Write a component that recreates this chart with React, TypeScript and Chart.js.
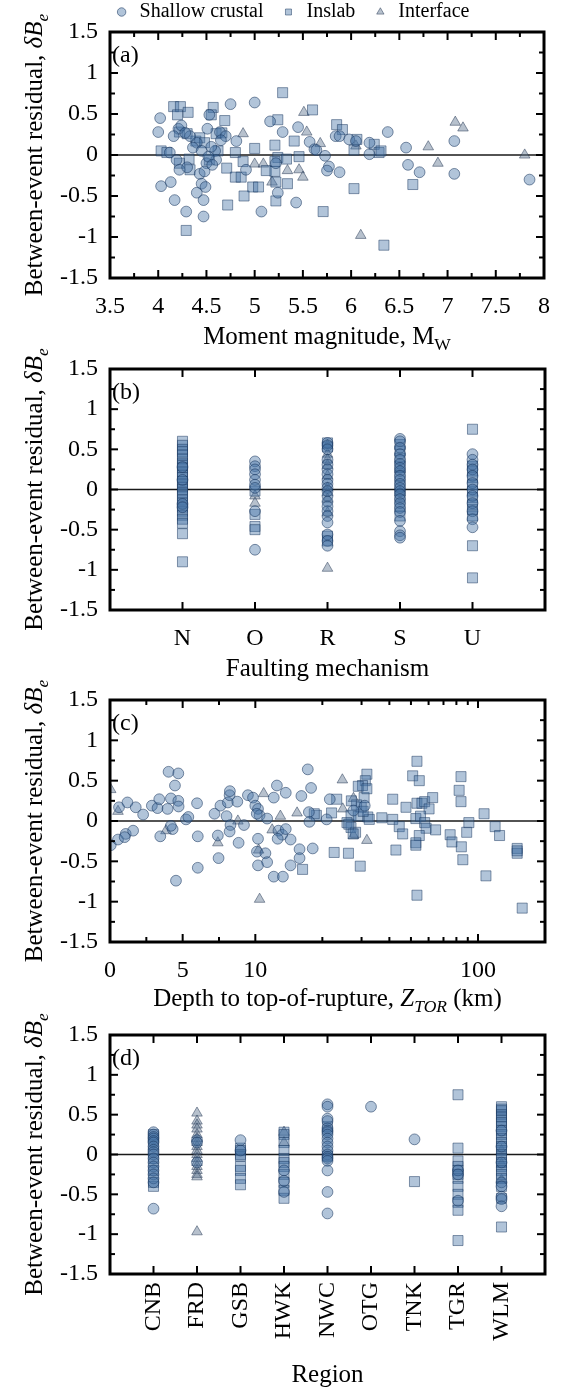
import React, { useEffect, useRef } from 'react';
import { Chart, registerables, LinearScale } from 'chart.js';

Chart.register(...registerables);

const FAMILY = '"Liberation Serif", "Times New Roman", Times, serif';
const TICK_SIZE = 24;
const TITLE_SIZE = 25;

// ---------- axis / category data ----------
const MECHANISMS = ['N', 'O', 'R', 'S', 'U'];
const REGIONS = ['CNB', 'FRD', 'GSB', 'HWK', 'NWC', 'OTG', 'TNK', 'TGR', 'WLM'];
const MW_TICKS = [3.5, 4, 4.5, 5, 5.5, 6, 6.5, 7, 7.5, 8];
const MW_MINOR = [3.75, 4.25, 4.75, 5.25, 5.75, 6.25, 6.75, 7.25, 7.75];
const DEPTH_TICKS = [0, 5, 10, 100];
const DEPTH_MINOR = [2.5, 7.5, 20, 30, 40, 50, 60, 70, 80, 90, 200];
const RES_TICKS = [-1.5, -1, -0.5, 0, 0.5, 1, 1.5];
const RES_MINOR = [-1.25, -0.75, -0.25, 0.25, 0.75, 1.25];
const SERIES = ['Shallow crustal', 'Inslab', 'Interface'];

// ---------- (a) residual vs moment magnitude ----------
const A_SHALLOW: [number, number][] = [
  [4.02, 0.45], [4.0, 0.28], [4.03, -0.38], [4.13, -0.33], [4.17, -0.55], [4.29, -0.69], [4.47, -0.75],
  [4.75, 0.62], [5.0, 0.64], [5.07, -0.69], [4.21, 0.32], [4.24, 0.36], [4.16, 0.23], [4.12, 0.03],
  [4.19, -0.06], [4.22, -0.18], [4.43, -0.23], [4.45, -0.35], [4.4, -0.46], [4.47, -0.55], [4.49, -0.39],
  [4.5, -0.1], [4.51, 0.32], [4.53, 0.49], [4.64, 0.28], [4.7, 0.23], [4.81, 0.17], [4.4, 0.15],
  [4.36, 0.09], [4.33, 0.23], [4.59, 0.05], [4.6, -0.06], [4.91, -0.18], [4.28, 0.27], [4.45, 0.05],
  [4.52, -0.02], [4.55, 0.1], [4.48, -0.2], [4.3, -0.15], [4.65, 0.18], [4.56, -0.12],
  [5.16, 0.41], [5.29, 0.28], [5.45, 0.34], [5.57, 0.16], [5.62, 0.07], [5.64, 0.06], [5.73, -0.01],
  [5.77, -0.14], [5.75, -0.19], [5.88, -0.21], [5.84, 0.23], [5.88, 0.23], [5.98, 0.19], [6.05, 0.17],
  [6.19, 0.15], [6.19, 0.01], [6.38, 0.28], [6.57, 0.09], [6.59, -0.12], [6.71, -0.21], [7.07, 0.17],
  [7.07, -0.23], [7.85, -0.3], [5.43, -0.58], [5.24, -0.46], [5.22, -0.1],
];
const A_INSLAB: [number, number][] = [
  [4.16, 0.59], [4.23, 0.59], [4.2, 0.49], [4.31, 0.52], [4.57, 0.58], [4.55, 0.49], [4.69, 0.42],
  [4.22, 0.28], [4.3, 0.26], [4.39, 0.17], [4.43, 0.21], [4.6, 0.26], [4.66, 0.27], [4.03, 0.05],
  [4.09, 0.03], [4.32, -0.05], [4.22, -0.1], [4.33, -0.18], [4.53, -0.06], [4.62, 0.05], [4.71, -0.16],
  [4.8, 0.03], [4.88, -0.08], [4.8, -0.27], [4.86, -0.27], [5.0, 0.08], [4.98, -0.39], [5.04, -0.39],
  [4.89, -0.5], [4.72, -0.61], [4.29, -0.92], [4.48, 0.15],
  [5.29, 0.76], [5.6, 0.55], [5.24, 0.43], [5.41, 0.17], [5.21, 0.12], [5.24, -0.03], [5.33, -0.05],
  [5.46, -0.02], [5.21, -0.08], [5.12, -0.19], [5.21, -0.2], [5.22, -0.33], [5.34, -0.35], [5.22, -0.56],
  [5.71, -0.69], [5.85, 0.37], [5.91, 0.31], [6.06, 0.19], [6.03, 0.06], [6.24, 0.13], [6.29, 0.03],
  [6.31, 0.05], [6.03, -0.41], [6.64, -0.36], [6.34, -1.1],
];
const A_INTERFACE: [number, number][] = [
  [4.88, 0.26], [5.0, -0.11], [5.09, -0.11], [5.51, 0.52], [5.54, 0.28], [5.68, 0.14], [6.05, 0.11],
  [5.34, -0.19], [5.46, -0.18], [5.5, -0.27], [5.18, -0.33], [6.1, -0.98], [6.8, 0.1], [6.9, -0.1],
  [7.08, 0.4], [7.16, 0.33], [7.8, 0.0],
];

// ---------- (b) residual by faulting mechanism ----------
const B_SHALLOW: Record<string, number[]> = {
  N: [0.28, 0.12, -0.18, -0.22],
  O: [0.35, 0.29, 0.25, 0.19, 0.12, 0.06, 0.02, -0.27, -0.75],
  R: [0.58, 0.55, 0.5, 0.37, 0.31, 0.25, 0.19, 0.12, 0.07, 0.02, -0.02, -0.08, -0.15, -0.21, -0.27, -0.33, -0.41, -0.56, -0.64, -0.7],
  S: [0.63, 0.6, 0.52, 0.44, 0.37, 0.32, 0.27, 0.23, 0.17, 0.12, 0.07, 0.02, -0.02, -0.06, -0.12, -0.17, -0.23, -0.28, -0.39, -0.52, -0.57, -0.6],
  U: [0.44, 0.37, 0.31, 0.25, 0.17, 0.08, 0, -0.08, -0.17, -0.27, -0.37, -0.47],
};
const B_INSLAB: Record<string, number[]> = {
  N: [0.6, 0.55, 0.5, 0.47, 0.43, 0.38, 0.33, 0.3, 0.27, 0.22, 0.18, 0.15, 0.1, 0.07, 0.03, 0, -0.04, -0.08, -0.13, -0.17, -0.22, -0.27, -0.32, -0.37, -0.42, -0.55, -0.9],
  O: [-0.02, -0.31, -0.46, -0.5],
  R: [0.58, 0.53, -0.58, -0.64],
  S: [0.56, 0.48, 0.39, 0.29, 0.17, 0.04, -0.08, -0.21, -0.33],
  U: [0.75, 0.29, 0.23, 0.15, 0.06, -0.02, -0.1, -0.19, -0.25, -0.33, -0.7, -1.1],
};
const B_INTERFACE: Record<string, number[]> = {
  O: [-0.08, -0.17],
  R: [0.55, 0.44, 0.37, 0.3, 0.17, 0.02, -0.04, -0.12, -0.29, -0.98],
  S: [0.25, -0.04],
};

// ---------- (c) residual vs depth to top of rupture (km) ----------
const C_SHALLOW: [number, number][] = [
  [0.05, -0.3], [0.55, -0.23], [0.62, 0.17], [1.08, -0.16], [1.01, -0.2], [1.2, 0.23], [1.59, -0.12],
  [1.77, 0.17], [2.28, 0.08], [2.88, 0.19], [3.27, 0.16], [3.46, -0.19], [3.39, 0.27], [3.96, 0.15],
  [4.03, 0.61], [4.7, 0.59], [4.47, 0.44], [4.19, 0.28], [4.7, 0.25], [4.72, 0.18], [4.31, -0.1],
  [4.19, -0.06], [4.54, -0.74], [5.23, 0.02], [5.39, 0.05], [5.99, 0.22], [6.04, -0.19], [6.04, -0.58],
  [7.19, 0.09], [7.6, 0.19], [7.42, -0.18], [7.47, -0.46], [8.02, 0.06], [8.11, 0.23], [8.23, 0.32],
  [8.25, 0.37], [8.29, -0.05], [8.23, -0.13], [8.76, 0.24], [8.85, -0.27], [9.22, -0.05], [9.49, 0.32],
  [9.84, 0.29], [10.0, 0.19], [10.28, 0.15], [10.45, 0.07], [10.15, 0.09], [10.28, -0.22], [10.17, -0.38],
  [11.1, -0.4], [10.28, -0.55], [11.3, -0.51], [11.3, 0.03], [12.1, 0.29], [12.5, 0.44], [13.7, 0.35],
  [12.7, -0.12], [13.2, -0.17], [13.7, -0.1], [12.6, -0.22], [14.4, -0.23], [12.1, -0.69], [13.3, -0.69],
  [14.4, -0.55], [15.8, -0.35], [15.8, -0.46], [16.1, 0.31], [17.2, 0.64], [17.8, 0.41], [18.1, -0.34],
  [17.4, 0.11], [17.5, -0.01], [21.6, 0.27], [20.9, 0.02], [27.6, 0.13], [31.0, 0.19],
];
const C_INSLAB: [number, number][] = [
  [16.3, -0.6], [18.8, 0.07], [23.2, 0.27], [22.0, 0.1], [18.4, 0.09], [22.6, -0.39], [26.2, -0.4],
  [29.6, -0.56], [31.7, 0.58], [31.2, 0.5], [30.3, 0.44], [29.0, 0.43], [30.8, 0.29], [31.7, 0.4],
  [29.9, 0.17], [26.9, 0.07], [25.8, -0.02], [26.9, -0.08], [28.2, -0.14], [26.3, -0.04], [29.0, 0.06],
  [32.0, 0.05], [32.5, 0.02], [27.5, -0.16], [28.5, 0.2], [30.5, 0.12], [27.0, 0.25], [37.0, 0.04],
  [41.4, 0.27], [41.4, 0.02], [44.3, -0.07], [45.9, -0.16], [47.5, 0.17], [42.8, -0.36], [53.2, 0.74],
  [50.9, 0.56], [54.5, 0.5], [53.2, 0.22], [56.0, 0.22], [57.6, 0.24], [62.6, 0.29], [60.3, 0.15],
  [52.6, 0.03], [55.2, 0.06], [57.6, -0.02], [58.5, -0.09], [64.5, -0.11], [54.5, -0.18], [52.6, -0.27],
  [52.6, -0.3], [53.2, -0.92], [75.0, -0.17], [76.4, -0.26], [83.9, 0.55], [82.3, 0.38], [83.9, 0.24],
  [84.2, -0.32], [85.5, -0.48], [89, -0.14], [91, -0.02], [106.5, 0.09], [108.6, -0.68], [119.4, -0.07],
  [125, -0.18], [150, -0.34], [150, -0.4], [150, -0.37], [158, -1.08],
];
const C_INTERFACE: [number, number][] = [
  [0.05, 0.39], [0.55, 0.12], [3.85, -0.12], [7.42, -0.27], [8.8, 0.0], [10.9, 0.34], [12.96, 0.06],
  [11.9, -0.11], [10.45, -0.97], [10.35, -0.36], [15.4, 0.1], [24.6, 0.51], [27.6, 0.28], [24.7, 0.15],
  [27.6, -0.18], [31.7, -0.24],
];

// ---------- (d) residual by region ----------
const D_SHALLOW: Record<string, number[]> = {
  CNB: [0.28, 0.25, 0.22, 0.2, 0.17, 0.15, 0.1, 0.06, 0.03, 0, -0.05, -0.1, -0.15, -0.2, -0.25, -0.3, -0.35, -0.68],
  FRD: [0.18, 0.15, -0.1],
  GSB: [0.18, 0.05],
  HWK: [-0.2, -0.33, -0.47],
  NWC: [0.63, 0.6, 0.45, 0.42, 0.33, 0.3, 0.28, 0.25, 0.2, 0.15, 0.1, 0.05, 0, -0.03, -0.05, -0.08, -0.2, -0.47, -0.74],
  OTG: [0.6],
  TNK: [0.19],
  TGR: [-0.2, -0.25, -0.58],
  WLM: [0.3, 0.1, -0.1, -0.35, -0.4, -0.53, -0.56, -0.65],
};
const D_INSLAB: Record<string, number[]> = {
  CNB: [0.25, 0.12, -0.05, -0.2, -0.35, -0.4],
  GSB: [0.08, 0.05, 0, -0.02, -0.15, -0.2, -0.3, -0.38],
  HWK: [0.28, 0.25, 0.15, 0.05, -0.05, -0.1, -0.15, -0.25, -0.35, -0.45, -0.55],
  NWC: [0.35, -0.02],
  TNK: [-0.34],
  TGR: [0.75, 0.08, -0.08, -0.15, -0.2, -0.25, -0.3, -0.4, -0.5, -0.6, -0.7, -1.08],
  WLM: [0.6, 0.57, 0.55, 0.5, 0.47, 0.43, 0.4, 0.35, 0.3, 0.25, 0.2, 0.15, 0.1, 0.05, 0, -0.05, -0.1, -0.15, -0.2, -0.25, -0.3, -0.4, -0.55, -0.91],
};
const D_INTERFACE: Record<string, number[]> = {
  FRD: [0.52, 0.42, 0.37, 0.32, 0.25, 0.2, 0.15, 0.1, 0.05, 0, -0.05, -0.1, -0.15, -0.2, -0.25, -0.28, -0.97],
  HWK: [0.28, 0.15],
  WLM: [0.05, -0.12, -0.32],
};

// ---------- depth scale: linear 0–10 km, logarithmic above ----------
const LIN_FRAC = 0.6527; // width of 0–10 km relative to one log decade

class DepthScale extends LinearScale {
  static id = 'depth';
  determineDataLimits() {
    const o: any = (this as any).options;
    (this as any).min = o.min ?? 0;
    (this as any).max = o.max ?? 200;
  }
  buildTicks() {
    return DEPTH_TICKS.map((v) => ({ value: v }));
  }
  _u(v: number) {
    return v <= 10 ? (LIN_FRAC * v) / 10 : LIN_FRAC + Math.log10(v / 10);
  }
  getPixelForValue(v: number) {
    const self: any = this;
    return self.getPixelForDecimal(this._u(v) / this._u(self.max));
  }
  getValueForPixel(p: number) {
    const self: any = this;
    const u = self.getDecimalForPixel(p) * this._u(self.max);
    return u <= LIN_FRAC ? (u / LIN_FRAC) * 10 : 10 * Math.pow(10, u - LIN_FRAC);
  }
}
Chart.register(DepthScale as any);

// ---------- styling ----------
const STYLES = [
  { pointStyle: 'circle', radius: 5.4, bg: 'rgba(70,115,165,0.42)', border: 'rgba(25,55,95,0.55)' },
  { pointStyle: 'rect', radius: 7.1, bg: 'rgba(70,115,165,0.42)', border: 'rgba(25,55,95,0.5)' },
  { pointStyle: 'triangle', radius: 6.1, bg: 'rgba(95,118,145,0.45)', border: 'rgba(40,58,85,0.5)' },
];

type Seg = { t: string; it?: boolean; sub?: boolean };

function segFont(size: number, s: Seg) {
  const sz = s.sub ? size * 0.7 : size;
  return `${s.it ? 'italic ' : ''}${sz}px ${FAMILY}`;
}

function drawRich(ctx: CanvasRenderingContext2D, segs: Seg[], size: number, x: number, y: number, rot: number, align: 'center' | 'left' = 'center') {
  ctx.save();
  ctx.translate(x, y);
  ctx.rotate(rot);
  ctx.textBaseline = 'alphabetic';
  ctx.textAlign = 'left';
  ctx.fillStyle = '#000';
  let total = 0;
  for (const s of segs) {
    ctx.font = segFont(size, s);
    total += ctx.measureText(s.t).width;
  }
  let cx = align === 'center' ? -total / 2 : 0;
  for (const s of segs) {
    ctx.font = segFont(size, s);
    ctx.fillText(s.t, cx, s.sub ? size * 0.25 : 0);
    cx += ctx.measureText(s.t).width;
  }
  ctx.restore();
}

const Y_TITLE: Seg[] = [{ t: 'Between-event residual, ' }, { t: 'δB', it: true }, { t: 'e', it: true, sub: true }];

type Spec = {
  key: string;
  top: number;
  height: number;
  padTop: number;
  padLeft: number;
  axisH: number;
  legend: boolean;
  xType: string;
  xMin: number;
  xMax: number;
  xTicks: number[];
  xLabel: (v: number) => string;
  xMinor: number[];
  rotate: boolean;
  xTitle: Seg[];
  xTitleDy: number;
  datasets: [number, number][][];
};

function framePlugin(spec: Spec) {
  return {
    id: 'frame_' + spec.key,
    beforeDatasetsDraw(chart: any) {
      const { ctx, chartArea: a, scales } = chart;
      const y0 = scales.y.getPixelForValue(0);
      ctx.save();
      ctx.strokeStyle = '#1a1a1a';
      ctx.lineWidth = 1.5;
      ctx.beginPath();
      ctx.moveTo(a.left, y0);
      ctx.lineTo(a.right, y0);
      ctx.stroke();
      ctx.restore();
    },
    afterDatasetsDraw(chart: any) {
      const { ctx, chartArea: a, scales } = chart;
      const xs = scales.x;
      const ys = scales.y;
      ctx.save();
      ctx.strokeStyle = '#000';
      ctx.lineWidth = 2;
      const seg = (x1: number, y1: number, x2: number, y2: number) => {
        ctx.beginPath();
        ctx.moveTo(x1, y1);
        ctx.lineTo(x2, y2);
        ctx.stroke();
      };
      const xt = (vals: number[], len: number) =>
        vals.forEach((v) => {
          const p = xs.getPixelForValue(v);
          seg(p, a.top, p, a.top + len);
          seg(p, a.bottom, p, a.bottom - len);
        });
      const yt = (vals: number[], len: number) =>
        vals.forEach((v) => {
          const p = ys.getPixelForValue(v);
          seg(a.left, p, a.left + len, p);
          seg(a.right, p, a.right - len, p);
        });
      xt(spec.xTicks, 8);
      xt(spec.xMinor, 5);
      yt(RES_TICKS, 8);
      yt(RES_MINOR, 5);
      ctx.lineWidth = 3;
      ctx.strokeRect(a.left, a.top, a.right - a.left, a.bottom - a.top);
      ctx.restore();

      drawRich(ctx, Y_TITLE, TITLE_SIZE, 42, (a.top + a.bottom) / 2, -Math.PI / 2);
      drawRich(ctx, spec.xTitle, TITLE_SIZE, (a.left + a.right) / 2, a.bottom + spec.xTitleDy, 0);
      drawRich(ctx, [{ t: `(${spec.key})` }], TICK_SIZE, a.left + 2, a.top + 30, 0, 'left');
    },
  };
}

function fromPairs(list: [number, number][]) {
  return list.map(([x, y]) => ({ x, y }));
}
function fromCats(rec: Record<string, number[]>, cats: string[]): [number, number][] {
  const out: [number, number][] = [];
  cats.forEach((c, i) => (rec[c] || []).forEach((v) => out.push([i + 1, v])));
  return out;
}

const SPECS: Spec[] = [
  {
    key: 'a', top: 0, height: 356, padTop: -15, padLeft: 38, axisH: 78, legend: true,
    xType: 'linear', xMin: 3.5, xMax: 8, xTicks: MW_TICKS, xLabel: (v) => String(v), xMinor: MW_MINOR,
    rotate: false, xTitle: [{ t: 'Moment magnitude, M' }, { t: 'W', sub: true }], xTitleDy: 66,
    datasets: [A_SHALLOW, A_INSLAB, A_INTERFACE],
  },
  {
    key: 'b', top: 330, height: 360, padTop: 39, padLeft: 0, axisH: 80, legend: false,
    xType: 'linear', xMin: 0, xMax: 6, xTicks: [1, 2, 3, 4, 5], xLabel: (v) => MECHANISMS[v - 1] ?? '', xMinor: [],
    rotate: false, xTitle: [{ t: 'Faulting mechanism' }], xTitleDy: 66,
    datasets: [fromCats(B_SHALLOW, MECHANISMS), fromCats(B_INSLAB, MECHANISMS), fromCats(B_INTERFACE, MECHANISMS)],
  },
  {
    key: 'c', top: 662, height: 360, padTop: 38, padLeft: 0, axisH: 80, legend: false,
    xType: 'depth', xMin: 0, xMax: 200, xTicks: DEPTH_TICKS, xLabel: (v) => String(v), xMinor: DEPTH_MINOR,
    rotate: false,
    xTitle: [{ t: 'Depth to top-of-rupture, ' }, { t: 'Z', it: true }, { t: 'TOR', it: true, sub: true }, { t: ' (km)' }],
    xTitleDy: 64,
    datasets: [C_SHALLOW, C_INSLAB, C_INTERFACE],
  },
  {
    key: 'd', top: 994, height: 397, padTop: 41, padLeft: 0, axisH: 117, legend: false,
    xType: 'linear', xMin: 0, xMax: 10, xTicks: [1, 2, 3, 4, 5, 6, 7, 8, 9], xLabel: (v) => REGIONS[v - 1] ?? '', xMinor: [],
    rotate: true, xTitle: [{ t: 'Region' }], xTitleDy: 108,
    datasets: [fromCats(D_SHALLOW, REGIONS), fromCats(D_INSLAB, REGIONS), fromCats(D_INTERFACE, REGIONS)],
  },
];

function buildConfig(spec: Spec): any {
  const tickFont = { family: FAMILY, size: TICK_SIZE };
  return {
    type: 'scatter',
    data: {
      datasets: spec.datasets.map((pts, i) => ({
        label: SERIES[i],
        data: fromPairs(pts),
        pointStyle: STYLES[i].pointStyle,
        pointRadius: STYLES[i].radius,
        pointHoverRadius: STYLES[i].radius,
        backgroundColor: STYLES[i].bg,
        borderColor: STYLES[i].border,
        borderWidth: 1,
      })),
    },
    options: {
      animation: false,
      responsive: false,
      devicePixelRatio: 1,
      events: [],
      layout: { padding: { left: spec.padLeft, right: 19, top: spec.padTop, bottom: 0 } },
      plugins: {
        legend: spec.legend
          ? {
              display: true,
              position: 'top',
              labels: {
                usePointStyle: true,
                boxWidth: 16,
                boxHeight: 6,
                padding: 17,
                color: '#000',
                font: { family: FAMILY, size: 20 },
              },
            }
          : { display: false },
        tooltip: { enabled: false },
      },
      scales: {
        x: {
          type: spec.xType,
          position: 'bottom',
          min: spec.xMin,
          max: spec.xMax,
          grid: { display: false, drawTicks: false },
          border: { display: false },
          afterBuildTicks: (s: any) => {
            s.ticks = spec.xTicks.map((v) => ({ value: v }));
          },
          afterFit: (s: any) => {
            s.height = spec.axisH;
          },
          ticks: {
            autoSkip: false,
            color: '#000',
            font: tickFont,
            padding: spec.rotate ? 8 : 14,
            minRotation: spec.rotate ? 90 : 0,
            maxRotation: spec.rotate ? 90 : 0,
            callback: (v: number) => spec.xLabel(v),
          },
        },
        y: {
          type: 'linear',
          min: -1.5,
          max: 1.5,
          grid: { display: false, drawTicks: false },
          border: { display: false },
          afterBuildTicks: (s: any) => {
            s.ticks = RES_TICKS.map((v) => ({ value: v }));
          },
          afterFit: (s: any) => {
            s.width = 110 - spec.padLeft;
          },
          ticks: {
            color: '#000',
            font: tickFont,
            padding: 12,
            callback: (v: number) => String(v),
          },
        },
      },
    },
    plugins: [framePlugin(spec)],
  };
}

export default function App() {
  const refs = useRef<(HTMLCanvasElement | null)[]>([]);
  useEffect(() => {
    const charts = SPECS.map((spec, i) => new Chart(refs.current[i] as HTMLCanvasElement, buildConfig(spec)));
    return () => charts.forEach((c) => c.destroy());
  }, []);
  return (
    <div style={{ position: 'absolute', left: 0, top: 0, width: 564, height: 1391, background: '#fff', overflow: 'hidden' }}>
      {SPECS.map((spec, i) => (
        <canvas
          key={spec.key}
          ref={(el) => {
            refs.current[i] = el;
          }}
          width={564}
          height={spec.height}
          style={{ position: 'absolute', left: 0, top: spec.top, width: 564, height: spec.height }}
        />
      ))}
    </div>
  );
}
